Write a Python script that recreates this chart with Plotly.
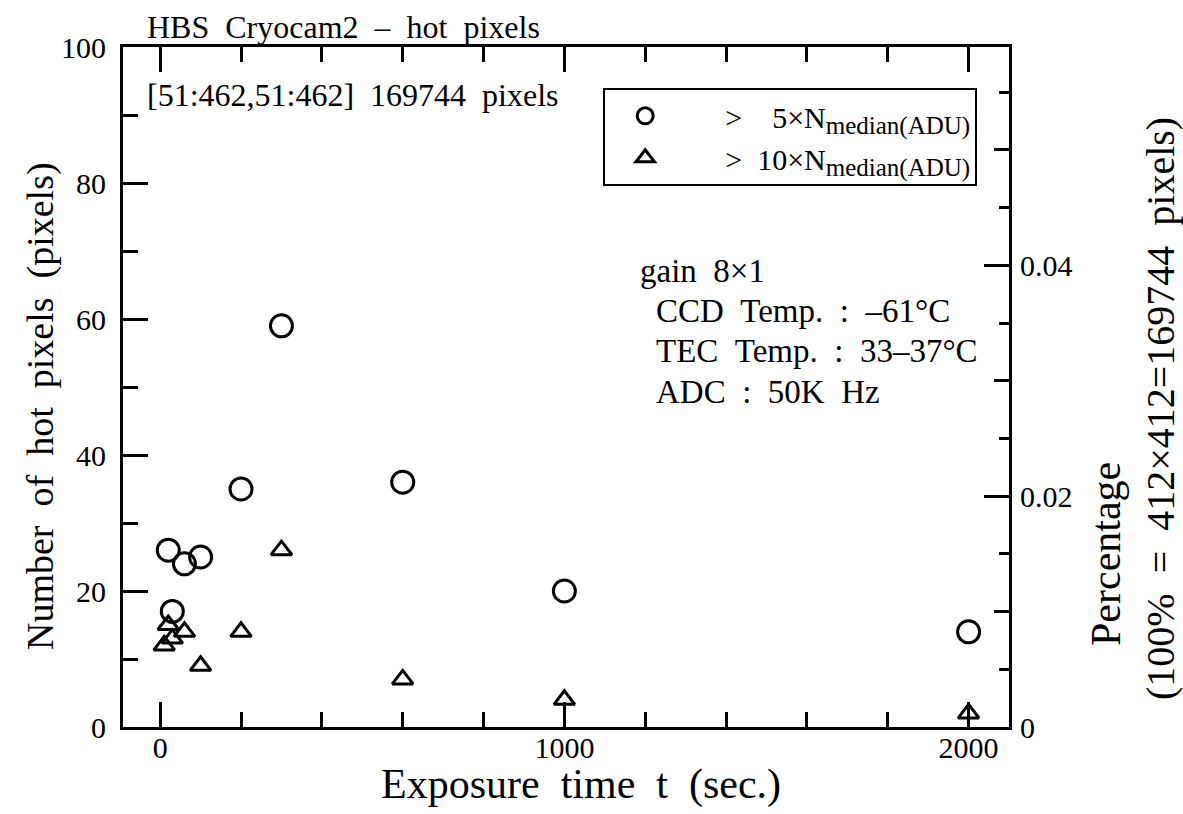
import plotly.graph_objects as go

# Hot-pixel counts versus exposure time
t_5x = [20, 30, 60, 100, 200, 300, 600, 1000, 2000]
n_5x = [26, 17, 24, 25, 35, 59, 36, 20, 14]

t_10x = [10, 20, 30, 60, 100, 200, 300, 600, 1000, 2000]
n_10x = [12, 15, 13, 14, 9, 14, 26, 7, 4, 2]

TOTAL_PIXELS = 412 * 412          # 169744
Y_MAX = 100
PCT_MAX = Y_MAX / TOTAL_PIXELS * 100  # percentage corresponding to Y_MAX

FONT = "Liberation Serif, Times New Roman, Times, DejaVu Serif, serif"
NB = "\u00a0"
SUB = '<sub><span style="font-size:25px">median(ADU)</span></sub>'

fig = go.Figure()

fig.add_trace(go.Scatter(
    x=t_5x, y=n_5x, mode="markers",
    name=f"{NB*8}>{NB*4}5×N{SUB}",
    marker=dict(symbol="circle-open", size=22, color="black",
                line=dict(width=3, color="black")),
))
fig.add_trace(go.Scatter(
    x=t_10x, y=n_10x, mode="markers",
    name=f"{NB*8}>{NB*2}10×N{SUB}",
    marker=dict(symbol="triangle-up-open", size=18, color="black",
                line=dict(width=3, color="black")),
))
# invisible traces that carry the secondary right-hand axes
fig.add_trace(go.Scatter(x=[None], y=[None], yaxis="y2", showlegend=False))
fig.add_trace(go.Scatter(x=[None], y=[None], yaxis="y3", showlegend=False))

axis_font = dict(family=FONT, size=30, color="black")

fig.update_layout(
    width=1183, height=814,
    margin=dict(l=123, r=174, t=47, b=87),
    paper_bgcolor="white", plot_bgcolor="white",
    font=dict(family=FONT, color="black"),
    xaxis=dict(
        range=[-92, 2100], showgrid=False, zeroline=False,
        showline=True, linewidth=3, linecolor="black", mirror="ticks",
        tickmode="linear", tick0=0, dtick=1000,
        ticks="inside", ticklen=25, tickwidth=3, tickcolor="black",
        minor=dict(tick0=0, dtick=200, ticks="inside", ticklen=15,
                   tickwidth=3, tickcolor="black"),
        tickfont=axis_font, ticklabelstandoff=-8,
    ),
    yaxis=dict(
        range=[0, Y_MAX], showgrid=False, zeroline=False,
        showline=True, linewidth=3, linecolor="black",
        tickmode="linear", tick0=0, dtick=20,
        ticks="inside", ticklen=25, tickwidth=3, tickcolor="black",
        minor=dict(tick0=0, dtick=10, ticks="inside", ticklen=15,
                   tickwidth=3, tickcolor="black"),
        tickfont=axis_font, ticklabelstandoff=8,
    ),
    yaxis2=dict(
        overlaying="y", side="right", range=[0, PCT_MAX],
        showgrid=False, zeroline=False,
        showline=True, linewidth=3, linecolor="black",
        tickmode="array", tickvals=[0, 0.02, 0.04],
        ticktext=["0", "0.02", "0.04"],
        ticks="inside", ticklen=25, tickwidth=3, tickcolor="black",
        minor=dict(tick0=0, dtick=0.005, ticks="inside", ticklen=10,
                   tickwidth=3, tickcolor="black"),
        tickfont=axis_font, ticklabelstandoff=2,
    ),
    yaxis3=dict(
        overlaying="y", side="right", range=[0, PCT_MAX],
        showgrid=False, zeroline=False, showline=False,
        tickmode="array", tickvals=[0.01, 0.03, 0.05],
        showticklabels=False,
        ticks="inside", ticklen=15, tickwidth=3, tickcolor="black",
    ),
    legend=dict(
        x=0.542, y=0.94, xanchor="left", yanchor="top",
        bordercolor="black", borderwidth=2, bgcolor="white",
        font=dict(family=FONT, size=30, color="black"),
        indentation=20, itemwidth=30, tracegroupgap=0,
    ),
    showlegend=True,
)

def px_x(px):
    return (px - 123) / 886

def px_y(py):
    return (727 - py) / 680

def note(text, x, y, size=33, xanchor="left", angle=0, yanchor="middle"):
    fig.add_annotation(
        text=text, xref="paper", yref="paper", x=px_x(x), y=px_y(y),
        xanchor=xanchor, yanchor=yanchor, showarrow=False, textangle=angle,
        font=dict(family=FONT, size=size, color="black"),
    )

note(f"HBS{NB}{NB}Cryocam2{NB}{NB}–{NB}{NB}hot{NB}{NB}pixels", 145, 27, size=32)
note(f"[51:462,51:462]{NB}{NB}169744{NB}{NB}pixels", 145, 95, size=32)

note(f"gain{NB}{NB}8×1", 638, 271)
note(f"CCD{NB}{NB}Temp.{NB}{NB}:{NB}{NB}–61°C", 654, 311)
note(f"TEC{NB}{NB}Temp.{NB}{NB}:{NB}{NB}33–37°C", 654, 351)
note(f"ADC{NB}{NB}:{NB}{NB}50K{NB}{NB}Hz", 654, 392)

note(f"Exposure{NB}{NB}time{NB}{NB}t{NB}{NB}(sec.)", 581, 784, size=42,
     xanchor="center")
note(f"Number{NB}{NB}of{NB}{NB}hot{NB}{NB}pixels{NB}{NB}(pixels)", 40, 406,
     size=38, xanchor="center", angle=-90)
note("Percentage", 1106, 554, size=42, xanchor="center", angle=-90)
note(f"(100%{NB}{NB}={NB}{NB}412×412=169744{NB}{NB}pixels)", 1160, 409,
     size=40, xanchor="center", angle=-90)

fig.write_html("out.html")
